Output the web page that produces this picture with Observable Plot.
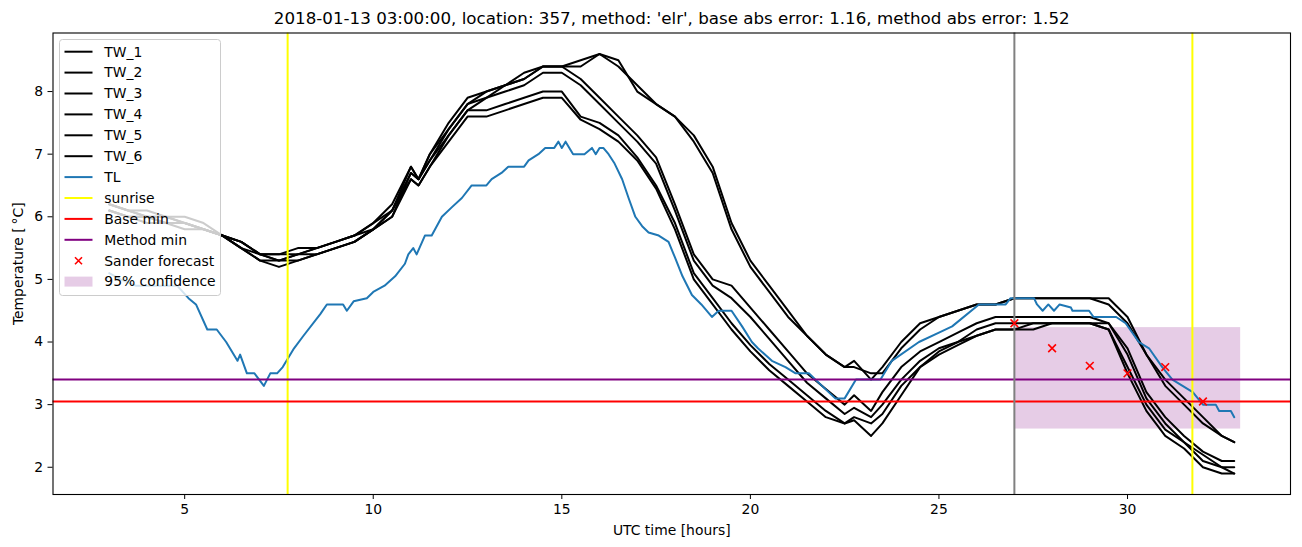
<!DOCTYPE html>
<html><head><meta charset="utf-8">
<script src="https://cdn.jsdelivr.net/npm/d3@7"></script>
<script src="https://cdn.jsdelivr.net/npm/@observablehq/plot@0.6"></script>
<style>body{margin:0;background:#fff} svg{display:block}</style>
</head><body><div id="chart"></div>
<script>
const titleText = "2018-01-13 03:00:00, location: 357, method: 'elr', base abs error: 1.16, method abs error: 1.52";
const xLabel = "UTC time [hours]";
const yLabel = "Temperature [\u2009\u00B0C]";
const xTicks = [5, 10, 15, 20, 25, 30];
const yTicks = [2, 3, 4, 5, 6, 7, 8];

const hours = [3,3.5,4,4.5,5,5.5,6,6.5,7,7.5,8,8.5,9,9.5,10,10.5,11,11.2,11.5,12,12.5,13,13.5,14,14.5,15,15.5,16,16.5,17,17.5,18,18.5,19,19.5,20,20.5,21,21.5,22,22.5,22.75,23.2,23.5,24,24.5,25,25.5,26,26.5,27,27.5,28,28.5,29,29.5,30,30.5,31,31.5,32,32.5,32.83];

const tw1 = [6.2,6.1,6.1,6.0,6.0,5.9,5.7,5.6,5.4,5.4,5.4,5.5,5.6,5.7,5.9,6.2, 6.8,6.6,
  7.0,7.5,7.9,8.0,8.1,8.3,8.4,8.4,8.5,8.6,8.5,8.0,7.8,7.6,7.2,6.7,5.8,5.2,4.8,4.4,4.1,3.8,3.6, 3.7,3.4,
  3.6,4.0,4.3,4.4,4.5,4.6,4.6,4.7,4.7,4.7,4.7,4.7,4.7,4.4,3.8,3.3,3.0,2.7,2.5, 2.4];
const tw2 = [6.2,6.1,6.0,6.0,5.9,5.8,5.7,5.5,5.4,5.3,5.4,5.4,5.5,5.6,5.8,6.1, 6.7,6.6,
  6.9,7.4,7.8,7.9,8.1,8.2,8.4,8.4,8.4,8.6,8.4,8.1,7.8,7.6,7.3,6.8,5.9,5.3,4.9,4.5,4.1,3.8,3.6, 3.6,3.5,
  3.5,3.9,4.2,4.4,4.5,4.6,4.6,4.7,4.7,4.7,4.7,4.7,4.6,4.3,3.8,3.4,3.1,2.8,2.5, 2.4];
const tw3 = [6.1,6.0,6.0,5.9,5.9,5.8,5.7,5.6,5.4,5.4,5.5,5.5,5.6,5.7,5.9,6.1, 6.8,6.6,
  7.0,7.4,7.8,8.0,8.1,8.2,8.4,8.4,8.2,7.9,7.6,7.3,6.95,6.2,5.4,5.0,4.9,4.55,4.2,3.85,3.5,3.25,3.0, 3.15,2.9,
  3.2,3.6,3.85,4.0,4.15,4.3,4.4,4.4,4.4,4.4,4.4,4.4,4.3,3.9,3.2,2.8,2.5,2.25,2.1, 2.1];
const tw4 = [6.2,6.1,6.0,6.0,5.9,5.8,5.7,5.5,5.3,5.3,5.3,5.4,5.5,5.6,5.8,6.0, 6.7,6.6,
  6.9,7.3,7.7,7.9,8.0,8.1,8.3,8.3,8.1,7.8,7.5,7.2,6.85,6.1,5.3,4.9,4.7,4.4,4.05,3.7,3.35,3.1,2.85, 2.95,2.8,
  3.0,3.4,3.7,3.9,4.0,4.2,4.3,4.3,4.3,4.3,4.3,4.3,4.3,3.8,3.1,2.7,2.4,2.2,2.0, 2.0];
const tw5 = [6.1,6.0,6.0,5.9,5.8,5.8,5.7,5.5,5.3,5.2,5.3,5.4,5.5,5.6,5.8,6.0, 6.6,6.5,
  6.8,7.3,7.7,7.7,7.8,7.9,8.0,8.0,7.6,7.5,7.3,6.95,6.5,5.9,5.1,4.7,4.3,3.95,3.65,3.4,3.15,2.9,2.7, 2.8,2.7,
  2.85,3.3,3.6,3.8,3.95,4.1,4.2,4.2,4.3,4.3,4.3,4.3,4.2,3.6,3.0,2.6,2.4,2.1,2.0, 1.9];
const tw6 = [6.1,6.0,5.9,5.9,5.9,5.8,5.7,5.6,5.4,5.3,5.4,5.5,5.6,5.7,5.8,6.1, 6.6,6.5,
  6.8,7.2,7.6,7.6,7.7,7.8,7.9,7.9,7.55,7.4,7.2,6.9,6.45,5.8,5.0,4.6,4.2,3.85,3.55,3.3,3.05,2.8,2.7, 2.75,2.5,
  2.7,3.15,3.6,3.85,4.0,4.1,4.2,4.2,4.2,4.3,4.3,4.3,4.2,3.5,2.9,2.5,2.3,2.0,1.9, 1.9];
const twNames = ["TW_1","TW_2","TW_3","TW_4","TW_5","TW_6"];
const twSeries = [tw1, tw2, tw3, tw4, tw5, tw6];

const tlHours = [3.0,3.3,3.7,4.8,5.1,5.3,5.6,5.85,6.1,6.4,6.47,6.65,6.85,7.1,7.27,7.45,7.6,7.9,8.15,8.6,8.77,9.2,9.3,9.48,9.83,10.0,10.3,10.58,10.84,10.93,11.06,11.15,11.37,11.55,11.82,12.08,12.35,12.61,13.0,13.14,13.4,13.58,14.0,14.12,14.38,14.56,14.8,14.91,15.0,15.1,15.3,15.6,15.8,15.9,16.0,16.1,16.24,16.4,16.6,16.77,16.95,17.13,17.3,17.57,17.83,18.0,18.2,18.45,18.7,18.98,19.16,19.5,19.78,20.04,20.2,20.57,20.93,21.2,21.55,21.9,22.25,22.5,22.8,23.45,23.75,24.47,25.0,25.35,26.06,26.77,26.9,27.52,27.6,27.75,27.9,28.05,28.2,28.5,28.54,28.98,29.1,29.7,29.95,30.3,30.57,30.92,31.19,31.46,31.73,32.0,32.34,32.43,32.74,32.83];
const tlValues = [5.1,5.0,4.9,4.9,4.7,4.6,4.2,4.2,4.0,3.7,3.8,3.5,3.5,3.3,3.5,3.5,3.6,3.9,4.1,4.45,4.6,4.6,4.5,4.65,4.7,4.8,4.9,5.05,5.25,5.4,5.5,5.4,5.7,5.7,6.0,6.15,6.3,6.5,6.5,6.6,6.7,6.8,6.8,6.9,7.0,7.1,7.1,7.2,7.1,7.2,7.0,7.0,7.1,7.0,7.1,7.1,7.0,6.85,6.6,6.3,6.0,5.85,5.75,5.7,5.6,5.35,5.05,4.75,4.6,4.4,4.5,4.5,4.25,4.0,3.9,3.7,3.6,3.5,3.5,3.3,3.1,3.1,3.4,3.4,3.7,4.0,4.15,4.25,4.6,4.6,4.7,4.7,4.6,4.5,4.6,4.5,4.6,4.55,4.5,4.5,4.4,4.4,4.3,4.0,3.9,3.6,3.4,3.3,3.2,3.0,3.0,2.9,2.9,2.8];

const sunriseHours = [7.73, 31.72];
const baseMin = 3.05;
const methodMin = 3.40;
const forecastStart = 27;
const forecastHours = [27, 28, 29, 30, 31, 32];
const forecastValues = [4.30, 3.90, 3.62, 3.50, 3.60, 3.05];
const bandStart = 27, bandEnd = 33, bandLow = 2.61, bandHigh = 4.23;

const legendLabels = ["TW_1","TW_2","TW_3","TW_4","TW_5","TW_6","TL","sunrise","Base min","Method min","Sander forecast","95% confidence"];

const twData = twNames.flatMap((name, i) => hours.map((h, j) => ({series: name, hour: h, temp: twSeries[i][j]})));
const tlData = tlHours.map((h, i) => ({hour: h, temp: tlValues[i]}));
const fcData = forecastHours.map((h, i) => ({hour: h, temp: forecastValues[i]}));
const band = [{x1: bandStart, x2: bandEnd, y1: bandLow, y2: bandHigh}];

const LW = 2;
const plot = Plot.plot({
  width: 1302, height: 547,
  marginLeft: 52.5, marginRight: 12, marginTop: 32.5, marginBottom: 53,
  style: {fontFamily: "'DejaVu Sans', sans-serif", fontSize: "13.9px", background: "white", color: "black"},
  x: {domain: [1.5085, 34.3215]},
  y: {domain: [1.565, 8.935]},
  marks: [
    Plot.rect(band, {x1: "x1", x2: "x2", y1: "y1", y2: "y2", fill: "purple", fillOpacity: 0.2}),
    Plot.line(twData, {x: "hour", y: "temp", z: "series", stroke: "black", strokeWidth: LW}),
    Plot.line(tlData, {x: "hour", y: "temp", stroke: "#1f77b4", strokeWidth: LW}),
    Plot.ruleX(sunriseHours, {stroke: "yellow", strokeWidth: LW}),
    Plot.ruleY([baseMin], {stroke: "red", strokeWidth: LW}),
    Plot.ruleY([methodMin], {stroke: "purple", strokeWidth: LW}),
    Plot.ruleX([forecastStart], {stroke: "gray", strokeWidth: LW}),
    Plot.dot(fcData, {x: "hour", y: "temp", symbol: "times", r: 3.6, stroke: "red", strokeWidth: 1.6}),
    Plot.frame({stroke: "black", strokeWidth: 1.1}),
    Plot.axisX({ticks: xTicks, tickSize: 5, tickPadding: 5, label: xLabel, labelAnchor: "center", labelArrow: "none", labelOffset: 40}),
    Plot.axisY({ticks: yTicks, tickSize: 5, tickPadding: 5, label: yLabel, labelAnchor: "center", labelArrow: "none", labelOffset: 40}),
    Plot.text([titleText], {frameAnchor: "top", lineAnchor: "middle", dy: -14, fontSize: 16.7, text: d => d})
  ]
});
document.getElementById("chart").appendChild(plot);

// matplotlib-style legend
const legendStyle = [
  {kind: "line", color: "black"}, {kind: "line", color: "black"}, {kind: "line", color: "black"},
  {kind: "line", color: "black"}, {kind: "line", color: "black"}, {kind: "line", color: "black"},
  {kind: "line", color: "#1f77b4"}, {kind: "line", color: "yellow"}, {kind: "line", color: "red"},
  {kind: "line", color: "purple"}, {kind: "marker", color: "red"}, {kind: "patch", color: "purple"}
];
const svg = d3.select(plot);
const lg = svg.append("g").attr("font-family", "'DejaVu Sans', sans-serif").attr("font-size", "13.9px");
lg.append("rect").attr("x", 59.5).attr("y", 39.5).attr("width", 161).attr("height", 256).attr("rx", 3)
  .attr("fill", "white").attr("fill-opacity", 0.8).attr("stroke", "#cccccc").attr("stroke-width", 1);
legendLabels.forEach((lab, i) => {
  const cy = 51.7 + i * 20.9;
  const st = legendStyle[i];
  if (st.kind === "line") {
    lg.append("line").attr("x1", 64.5).attr("x2", 92.5).attr("y1", cy).attr("y2", cy).attr("stroke", st.color).attr("stroke-width", LW);
  } else if (st.kind === "marker") {
    const s = 3.5;
    lg.append("path").attr("d", `M${78.5 - s},${cy - s}L${78.5 + s},${cy + s}M${78.5 - s},${cy + s}L${78.5 + s},${cy - s}`)
      .attr("stroke", st.color).attr("stroke-width", 1.6).attr("fill", "none");
  } else {
    lg.append("rect").attr("x", 64.5).attr("y", cy - 5).attr("width", 28).attr("height", 10).attr("fill", st.color).attr("fill-opacity", 0.2);
  }
  lg.append("text").attr("x", 104.3).attr("y", cy).attr("dy", "0.35em").attr("text-anchor", "start").attr("fill", "black").text(lab);
});
</script>
</body></html>
